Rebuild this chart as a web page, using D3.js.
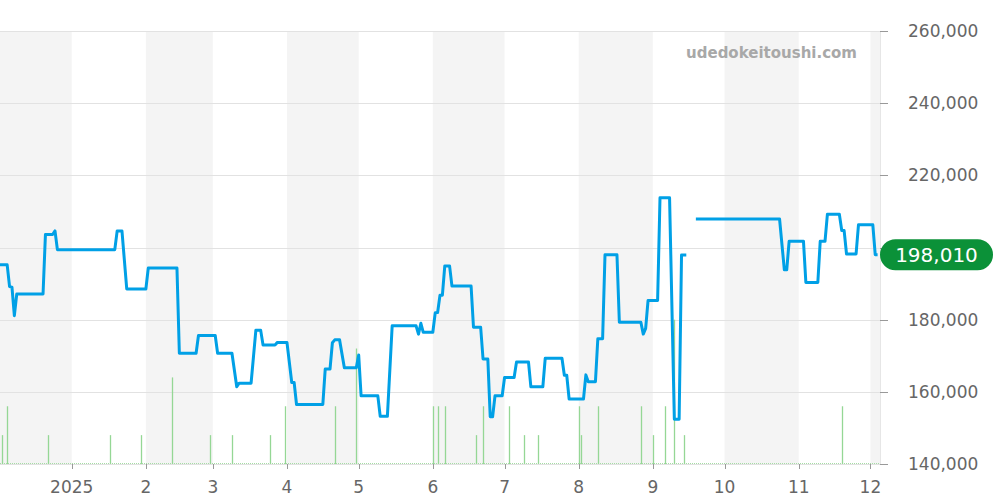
<!DOCTYPE html>
<html><head><meta charset="utf-8">
<script src="https://cdn.jsdelivr.net/npm/d3@7"></script>
<style>html,body{margin:0;padding:0;background:#fff;}svg{display:block;font-family:"DejaVu Sans",Verdana,sans-serif;}</style>
</head><body><svg id="c" width="1000" height="500"></svg>
<script>
const priceDates = ["2024-12-02","2024-12-05","2024-12-06","2024-12-07","2024-12-08","2024-12-09","2024-12-20","2024-12-21","2024-12-24","2024-12-25","2024-12-26",
"2025-01-19","2025-01-20","2025-01-22","2025-01-24","2025-02-01","2025-02-02","2025-02-14","2025-02-15","2025-02-22","2025-02-23",
"2025-03-02","2025-03-03","2025-03-09","2025-03-11","2025-03-12","2025-03-17","2025-03-19","2025-03-21","2025-03-22","2025-03-27","2025-03-28",
"2025-04-01","2025-04-03","2025-04-04","2025-04-05","2025-04-16","2025-04-17","2025-04-19","2025-04-20","2025-04-21","2025-04-23","2025-04-25","2025-04-30",
"2025-05-01","2025-05-02","2025-05-09","2025-05-10","2025-05-13","2025-05-15","2025-05-25","2025-05-26","2025-05-27","2025-05-28",
"2025-06-01","2025-06-02","2025-06-03","2025-06-04","2025-06-05","2025-06-06","2025-06-08","2025-06-09","2025-06-17","2025-06-18","2025-06-21","2025-06-22","2025-06-24","2025-06-25","2025-06-26","2025-06-27","2025-06-30",
"2025-07-01","2025-07-05","2025-07-06","2025-07-11","2025-07-12","2025-07-17","2025-07-18","2025-07-25","2025-07-26","2025-07-27","2025-07-28",
"2025-08-03","2025-08-04","2025-08-05","2025-08-08","2025-08-09","2025-08-11","2025-08-12","2025-08-17","2025-08-18","2025-08-27","2025-08-28","2025-08-29","2025-08-30",
"2025-09-03","2025-09-04","2025-09-08","2025-09-10","2025-09-12","2025-09-13","2025-09-15","2025-09-16","2025-09-19",
"2025-10-24","2025-10-26","2025-10-27","2025-10-28","2025-11-03","2025-11-04","2025-11-09","2025-11-10","2025-11-12","2025-11-13","2025-11-18","2025-11-19","2025-11-20","2025-11-21","2025-11-25","2025-11-26",
"2025-12-02","2025-12-03","2025-12-04"];
const priceValues = [195200,195200,189150,189000,181100,187100,187100,203600,203600,204600,199400,
199400,204600,204600,188500,188500,194300,194300,170700,170700,175600,
175600,170700,170700,161400,162400,162400,177100,177100,173000,173000,173700,
173700,162600,162600,156500,156500,166300,166300,173600,174400,174400,166700,166700,
170200,158900,158900,153200,153200,178300,178300,176000,179000,176500,
176500,181900,182000,186800,186800,194900,194900,189300,189300,177900,177900,169100,169100,153100,153100,158900,158900,
164000,164000,168300,168300,161400,161400,169300,169300,164600,164600,158000,
158000,164700,162800,162800,174700,174700,198000,198000,179300,179300,176000,177600,185300,
185300,213800,213800,152400,152400,197900,197900,null,207900,
207900,193800,193800,201700,201700,190300,190300,201700,201700,209200,209200,204700,204700,198200,198200,206300,
206300,198010,198010];

const volumeDates = ["2024-12-03","2024-12-05","2024-12-22","2025-01-17","2025-01-30","2025-02-12","2025-02-28","2025-03-09","2025-03-25","2025-03-31",
"2025-04-21","2025-04-30","2025-06-01","2025-06-03","2025-06-06","2025-06-19","2025-06-22","2025-07-03","2025-07-09","2025-07-15",
"2025-08-01","2025-08-02","2025-08-09","2025-08-27","2025-09-01","2025-09-06","2025-09-10","2025-09-14","2025-11-19"];
const volumeValues = [1,2,1,1,1,3,1,1,1,2, 2,4,2,2,2,1,2,2,1,1, 2,1,2,2,1,2,5,1,2];

const yTicks = [140000,160000,180000,200000,220000,240000,260000];
const monthTicks = ["2025-01-01","2025-02-01","2025-03-01","2025-04-01","2025-05-01","2025-06-01","2025-07-01","2025-08-01","2025-09-01","2025-10-01","2025-11-01","2025-12-01"];
const monthLabels = ["2025","2","3","4","5","6","7","8","9","10","11","12"];
const lastLabel = "198,010";
const watermark = "udedokeitoushi.com";

const parse = d3.timeParse("%Y-%m-%d");
const svg = d3.select("#c");
const L = 0, R = 880, T = 31, B = 464;
const x = d3.scaleTime().domain([parse("2024-12-02"), parse("2025-12-05")]).range([L, R]);
const y = d3.scaleLinear().domain([140000, 260000]).range([B, T]);
const yv = d3.scaleLinear().domain([0, 15]).range([B, T]);

// alternating month bands (even months shaded)
const bandStarts = d3.timeMonth.range(parse("2024-12-01"), parse("2026-01-01"));
svg.append("g").selectAll("rect").data(bandStarts.filter(d => d.getMonth() % 2 === 1)).join("rect")
  .attr("x", d => Math.max(L, x(d)))
  .attr("width", d => Math.min(R, x(d3.timeMonth.offset(d, 1))) - Math.max(L, x(d)))
  .attr("y", T).attr("height", B - T).attr("fill", "#f4f4f4");

// grid
svg.append("g").selectAll("line").data(yTicks).join("line")
  .attr("x1", L).attr("x2", R).attr("y1", d => Math.round(y(d)) + 0.5).attr("y2", d => Math.round(y(d)) + 0.5)
  .attr("stroke", "#e2e2e2").attr("stroke-width", 1);

// right axis line
svg.append("line").attr("x1", R + 0.5).attr("x2", R + 0.5).attr("y1", T).attr("y2", B)
  .attr("stroke", "#e6e6e6");

// volume bars
const vol = volumeDates.map((d, i) => ({ d: parse(d), v: volumeValues[i] }));
svg.append("line").attr("x1", L).attr("x2", R).attr("y1", B - 0.5).attr("y2", B - 0.5)
  .attr("stroke", "#a5dca5").attr("stroke-width", 1).attr("stroke-dasharray", "1,1");
svg.append("g").selectAll("line").data(vol).join("line")
  .attr("x1", d => Math.round(x(d.d)) + 0.5).attr("x2", d => Math.round(x(d.d)) + 0.5)
  .attr("y1", B).attr("y2", d => yv(d.v))
  .attr("stroke", "#95d795").attr("stroke-width", 1.3);

// price line
const price = priceDates.map((d, i) => ({ d: parse(d), v: priceValues[i] }));
const line = d3.line().defined(d => d.v != null).x(d => x(d.d)).y(d => y(d.v));
svg.append("path").datum(price).attr("d", line)
  .attr("fill", "none").attr("stroke", "#00a0e6").attr("stroke-width", 3)
  .attr("stroke-linejoin", "round");

// last value badge position
const lastV = priceValues[priceValues.length - 1];
const by = y(lastV);

// y axis (right)
const ya = svg.append("g").attr("transform", `translate(${R},0)`);
ya.selectAll("line").data(yTicks).join("line")
  .attr("x1", 0).attr("x2", 8).attr("y1", d => Math.round(y(d)) + 0.5).attr("y2", d => Math.round(y(d)) + 0.5)
  .attr("stroke", "#999");
// labels hidden behind the badge are not drawn
ya.selectAll("text").data(yTicks.filter(d => Math.abs(y(d) - by) > 20)).join("text")
  .attr("x", 28).attr("y", d => y(d)).attr("dy", "0.36em")
  .attr("fill", "#666").attr("font-size", 17)
  .text(d => d3.format(",")(d));

// x axis
const xa = svg.append("g");
xa.selectAll("line").data(monthTicks).join("line")
  .attr("x1", d => Math.round(x(parse(d))) + 0.5).attr("x2", d => Math.round(x(parse(d))) + 0.5)
  .attr("y1", B).attr("y2", B + 5).attr("stroke", "#999");
xa.selectAll("text").data(monthTicks).join("text")
  .attr("x", d => x(parse(d))).attr("y", 493)
  .attr("text-anchor", "middle").attr("fill", "#666").attr("font-size", 17)
  .text((d, i) => monthLabels[i]);

// watermark
svg.append("text").attr("x", 857).attr("y", 58).attr("text-anchor", "end")
  .attr("fill", "#a8a8a8").attr("font-size", 15).attr("font-weight", "bold").text(watermark);

// badge
svg.append("rect").attr("x", R).attr("y", by - 15.5).attr("width", 113).attr("height", 31)
  .attr("rx", 15.5).attr("fill", "#0b9138");
svg.append("text").attr("x", R + 56.5).attr("y", by).attr("dy", "0.36em").attr("text-anchor", "middle")
  .attr("fill", "#fff").attr("font-size", 20).text(lastLabel);
</script></body></html>
